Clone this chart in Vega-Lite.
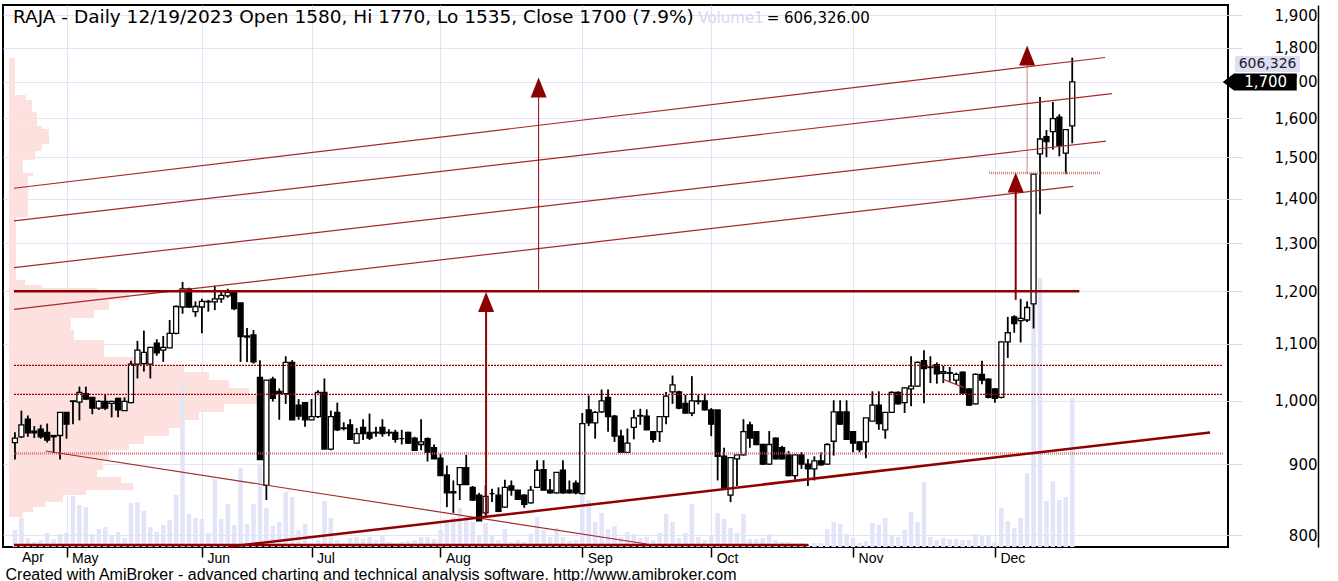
{
"$schema":"https://vega.github.io/schema/vega-lite/v6.json",
"width":1225,"height":542,
"autosize":{"type":"none"},
"padding":{"left":3,"top":5,"right":110,"bottom":34},
"background":"#ffffff",
"config":{"view":{"stroke":"#000000","strokeWidth":2}},
"datasets":{
"candles":[
{"i":0,"o":933,"h":949,"l":907,"c":940,"v":69190},
{"i":1,"o":942,"h":984,"l":940,"c":961,"v":118030},
{"i":2,"o":970,"h":976,"l":942,"c":948,"v":36630},
{"i":3,"o":951,"h":959,"l":940,"c":948,"v":20350},
{"i":4,"o":954,"h":961,"l":939,"c":942,"v":28490},
{"i":5,"o":949,"h":963,"l":933,"c":937,"v":56980},
{"i":6,"o":944,"h":944,"l":917,"c":942,"v":32560},
{"i":7,"o":944,"h":981,"l":907,"c":981,"v":52910},
{"i":8,"o":981,"h":981,"l":939,"c":962,"v":56980},
{"i":9,"o":999,"h":1000,"l":962,"c":1000,"v":207570},
{"i":10,"o":998,"h":1024,"l":968,"c":1014,"v":170940},
{"i":11,"o":1012,"h":1024,"l":1002,"c":1003,"v":162800},
{"i":12,"o":1006,"h":1006,"l":978,"c":988,"v":52910},
{"i":13,"o":988,"h":1001,"l":985,"c":999,"v":73260},
{"i":14,"o":999,"h":1010,"l":985,"c":988,"v":81400},
{"i":15,"o":996,"h":1000,"l":973,"c":999,"v":48840},
{"i":16,"o":1004,"h":1005,"l":973,"c":985,"v":61050},
{"i":17,"o":984,"h":1006,"l":984,"c":999,"v":36630},
{"i":18,"o":997,"h":1069,"l":996,"c":1063,"v":179080},
{"i":19,"o":1063,"h":1105,"l":1038,"c":1088,"v":183150},
{"i":20,"o":1064,"h":1124,"l":1050,"c":1084,"v":146520},
{"i":21,"o":1063,"h":1094,"l":1038,"c":1093,"v":81400},
{"i":22,"o":1101,"h":1108,"l":1078,"c":1083,"v":61050},
{"i":23,"o":1088,"h":1114,"l":1067,"c":1093,"v":89540},
{"i":24,"o":1092,"h":1144,"l":1092,"c":1119,"v":109890},
{"i":25,"o":1119,"h":1172,"l":1117,"c":1170,"v":211640},
{"i":26,"o":1169,"h":1219,"l":1156,"c":1205,"v":651200},
{"i":27,"o":1205,"h":1207,"l":1167,"c":1169,"v":134310},
{"i":28,"o":1160,"h":1180,"l":1150,"c":1170,"v":118030},
{"i":29,"o":1169,"h":1185,"l":1119,"c":1180,"v":113960},
{"i":30,"o":1179,"h":1183,"l":1160,"c":1180,"v":56980},
{"i":31,"o":1179,"h":1211,"l":1163,"c":1185,"v":276760},
{"i":32,"o":1185,"h":1202,"l":1177,"c":1192,"v":113960},
{"i":33,"o":1191,"h":1205,"l":1187,"c":1198,"v":175010},
{"i":34,"o":1198,"h":1201,"l":1163,"c":1166,"v":89540},
{"i":35,"o":1177,"h":1177,"l":1067,"c":1113,"v":321530},
{"i":36,"o":1114,"h":1129,"l":1067,"c":1112,"v":93610},
{"i":37,"o":1116,"h":1125,"l":1064,"c":1067,"v":175010},
{"i":38,"o":1040,"h":1070,"l":907,"c":907,"v":337810},
{"i":39,"o":869,"h":1035,"l":848,"c":1035,"v":158730},
{"i":40,"o":1037,"h":1041,"l":999,"c":1004,"v":85470},
{"i":41,"o":1016,"h":1021,"l":969,"c":1012,"v":101750},
{"i":42,"o":1012,"h":1077,"l":995,"c":1066,"v":223850},
{"i":43,"o":1066,"h":1070,"l":969,"c":969,"v":203500},
{"i":44,"o":993,"h":1003,"l":969,"c":975,"v":69190},
{"i":45,"o":997,"h":997,"l":958,"c":969,"v":93610},
{"i":46,"o":969,"h":1003,"l":969,"c":974,"v":16280},
{"i":47,"o":974,"h":1018,"l":972,"c":1014,"v":28490},
{"i":48,"o":1014,"h":1038,"l":923,"c":923,"v":187220},
{"i":49,"o":923,"h":984,"l":921,"c":974,"v":118030},
{"i":50,"o":981,"h":997,"l":951,"c":953,"v":28490},
{"i":51,"o":956,"h":965,"l":952,"c":955,"v":16280},
{"i":52,"o":961,"h":970,"l":938,"c":938,"v":36630},
{"i":53,"o":932,"h":956,"l":932,"c":947,"v":40700},
{"i":54,"o":957,"h":970,"l":937,"c":947,"v":32560},
{"i":55,"o":949,"h":979,"l":937,"c":940,"v":40700},
{"i":56,"o":948,"h":958,"l":942,"c":949,"v":28490},
{"i":57,"o":957,"h":970,"l":942,"c":947,"v":44770},
{"i":58,"o":949,"h":954,"l":943,"c":948,"v":20350},
{"i":59,"o":949,"h":953,"l":933,"c":938,"v":16280},
{"i":60,"o":939,"h":953,"l":930,"c":939,"v":20350},
{"i":61,"o":949,"h":950,"l":931,"c":932,"v":24420},
{"i":62,"o":940,"h":942,"l":920,"c":921,"v":28490},
{"i":63,"o":930,"h":970,"l":921,"c":934,"v":40700},
{"i":64,"o":939,"h":941,"l":904,"c":918,"v":40700},
{"i":65,"o":925,"h":930,"l":908,"c":908,"v":32560},
{"i":66,"o":909,"h":916,"l":883,"c":883,"v":69190},
{"i":67,"o":884,"h":898,"l":838,"c":858,"v":101750},
{"i":68,"o":860,"h":876,"l":830,"c":858,"v":122100},
{"i":69,"o":870,"h":895,"l":848,"c":895,"v":158730},
{"i":70,"o":895,"h":914,"l":870,"c":870,"v":122100},
{"i":71,"o":866,"h":868,"l":847,"c":848,"v":101750},
{"i":72,"o":855,"h":858,"l":819,"c":819,"v":44770},
{"i":73,"o":830,"h":869,"l":826,"c":853,"v":97680},
{"i":74,"o":857,"h":864,"l":845,"c":857,"v":44770},
{"i":75,"o":855,"h":866,"l":831,"c":832,"v":28490},
{"i":76,"o":838,"h":877,"l":837,"c":866,"v":73260},
{"i":77,"o":868,"h":876,"l":854,"c":862,"v":20350},
{"i":78,"o":862,"h":862,"l":848,"c":849,"v":28490},
{"i":79,"o":855,"h":856,"l":837,"c":842,"v":20350},
{"i":80,"o":844,"h":868,"l":843,"c":862,"v":52910},
{"i":81,"o":866,"h":906,"l":866,"c":891,"v":122100},
{"i":82,"o":892,"h":906,"l":862,"c":862,"v":69190},
{"i":83,"o":862,"h":878,"l":857,"c":858,"v":40700},
{"i":84,"o":858,"h":888,"l":857,"c":888,"v":77330},
{"i":85,"o":891,"h":906,"l":857,"c":858,"v":40700},
{"i":86,"o":862,"h":876,"l":857,"c":858,"v":24420},
{"i":87,"o":872,"h":876,"l":856,"c":858,"v":28490},
{"i":88,"o":857,"h":980,"l":856,"c":963,"v":211640},
{"i":89,"o":985,"h":1009,"l":959,"c":964,"v":191290},
{"i":90,"o":964,"h":983,"l":939,"c":981,"v":101750},
{"i":91,"o":982,"h":1019,"l":980,"c":1000,"v":138380},
{"i":92,"o":1006,"h":1019,"l":950,"c":974,"v":73260},
{"i":93,"o":975,"h":977,"l":934,"c":943,"v":85470},
{"i":94,"o":943,"h":953,"l":918,"c":918,"v":40700},
{"i":95,"o":918,"h":955,"l":917,"c":932,"v":61050},
{"i":96,"o":957,"h":985,"l":938,"c":972,"v":52910},
{"i":97,"o":975,"h":987,"l":961,"c":976,"v":36630},
{"i":98,"o":975,"h":986,"l":953,"c":953,"v":40700},
{"i":99,"o":950,"h":951,"l":933,"c":938,"v":28490},
{"i":100,"o":950,"h":975,"l":934,"c":974,"v":56980},
{"i":101,"o":974,"h":1015,"l":962,"c":1008,"v":134310},
{"i":102,"o":1015,"h":1043,"l":995,"c":1027,"v":101750},
{"i":103,"o":1015,"h":1017,"l":986,"c":988,"v":36630},
{"i":104,"o":996,"h":1010,"l":979,"c":980,"v":56980},
{"i":105,"o":980,"h":1042,"l":975,"c":1000,"v":175010},
{"i":106,"o":999,"h":1010,"l":994,"c":1000,"v":40700},
{"i":107,"o":1000,"h":1012,"l":984,"c":985,"v":28490},
{"i":108,"o":985,"h":988,"l":943,"c":962,"v":48840},
{"i":109,"o":985,"h":985,"l":876,"c":912,"v":138380},
{"i":110,"o":912,"h":925,"l":863,"c":864,"v":113960},
{"i":111,"o":855,"h":910,"l":845,"c":910,"v":77330},
{"i":112,"o":908,"h":914,"l":868,"c":914,"v":56980},
{"i":113,"o":914,"h":970,"l":913,"c":950,"v":134310},
{"i":114,"o":961,"h":966,"l":925,"c":940,"v":32560},
{"i":115,"o":950,"h":951,"l":929,"c":930,"v":32560},
{"i":116,"o":930,"h":931,"l":899,"c":900,"v":36630},
{"i":117,"o":900,"h":951,"l":899,"c":930,"v":52910},
{"i":118,"o":940,"h":941,"l":907,"c":908,"v":28490},
{"i":119,"o":925,"h":928,"l":907,"c":908,"v":20350},
{"i":120,"o":914,"h":920,"l":882,"c":883,"v":20350},
{"i":121,"o":883,"h":915,"l":877,"c":914,"v":16280},
{"i":122,"o":914,"h":918,"l":893,"c":900,"v":16280},
{"i":123,"o":900,"h":908,"l":868,"c":893,"v":8140},
{"i":124,"o":893,"h":912,"l":876,"c":905,"v":16280},
{"i":125,"o":905,"h":918,"l":898,"c":899,"v":16280},
{"i":126,"o":900,"h":932,"l":899,"c":930,"v":73260},
{"i":127,"o":935,"h":1001,"l":913,"c":982,"v":101750},
{"i":128,"o":982,"h":1001,"l":961,"c":962,"v":93610},
{"i":129,"o":982,"h":1001,"l":937,"c":938,"v":52910},
{"i":130,"o":950,"h":951,"l":918,"c":932,"v":36630},
{"i":131,"o":934,"h":935,"l":918,"c":922,"v":16280},
{"i":132,"o":934,"h":972,"l":909,"c":972,"v":24420},
{"i":133,"o":967,"h":1016,"l":967,"c":993,"v":97680},
{"i":134,"o":993,"h":1016,"l":953,"c":963,"v":89540},
{"i":135,"o":953,"h":981,"l":939,"c":981,"v":118030},
{"i":136,"o":981,"h":1016,"l":980,"c":1014,"v":48840},
{"i":137,"o":1014,"h":1016,"l":994,"c":995,"v":40700},
{"i":138,"o":997,"h":1023,"l":980,"c":1022,"v":69190},
{"i":139,"o":1020,"h":1077,"l":991,"c":1025,"v":142450},
{"i":140,"o":1025,"h":1068,"l":1024,"c":1066,"v":101750},
{"i":141,"o":1069,"h":1088,"l":996,"c":1055,"v":264550},
{"i":142,"o":1058,"h":1077,"l":1030,"c":1057,"v":40700},
{"i":143,"o":1062,"h":1066,"l":1029,"c":1046,"v":28490},
{"i":144,"o":1047,"h":1060,"l":1030,"c":1050,"v":36630},
{"i":145,"o":1048,"h":1058,"l":1032,"c":1047,"v":32560},
{"i":146,"o":1035,"h":1048,"l":1028,"c":1045,"v":32560},
{"i":147,"o":1049,"h":1050,"l":1012,"c":1013,"v":28490},
{"i":148,"o":1020,"h":1021,"l":992,"c":993,"v":28490},
{"i":149,"o":995,"h":1047,"l":994,"c":1045,"v":52910},
{"i":150,"o":1045,"h":1069,"l":1028,"c":1035,"v":44770},
{"i":151,"o":1037,"h":1038,"l":1004,"c":1006,"v":48840},
{"i":152,"o":1020,"h":1021,"l":997,"c":1004,"v":20350},
{"i":153,"o":1006,"h":1104,"l":1004,"c":1103,"v":158730},
{"i":154,"o":1103,"h":1150,"l":1074,"c":1120,"v":105820},
{"i":155,"o":1150,"h":1153,"l":1120,"c":1137,"v":77330},
{"i":156,"o":1143,"h":1185,"l":1102,"c":1147,"v":118030},
{"i":157,"o":1144,"h":1180,"l":1140,"c":1168,"v":301180},
{"i":158,"o":1175,"h":1458,"l":1128,"c":1458,"v":1221000},
{"i":159,"o":1508,"h":1658,"l":1364,"c":1546,"v":1094830},
{"i":160,"o":1552,"h":1569,"l":1500,"c":1539,"v":187220},
{"i":161,"o":1565,"h":1644,"l":1519,"c":1599,"v":268620},
{"i":162,"o":1603,"h":1611,"l":1502,"c":1530,"v":191290},
{"i":163,"o":1510,"h":1570,"l":1458,"c":1570,"v":203500},
{"i":164,"o":1580,"h":1770,"l":1535,"c":1700,"v":606326}
],
"profile":[
{"lo":1663.6,"hi":1769.3,"vap":6},{"lo":1649.8,"hi":1663.6,"vap":17},{"lo":1617.2,"hi":1649.8,"vap":23},{"lo":1580.0,"hi":1617.2,"vap":28},{"lo":1572.1,"hi":1580.0,"vap":33},{"lo":1533.3,"hi":1572.1,"vap":40},{"lo":1515.6,"hi":1533.3,"vap":33},{"lo":1493.1,"hi":1515.6,"vap":26},{"lo":1461.1,"hi":1493.1,"vap":14},{"lo":1453.8,"hi":1461.1,"vap":24},{"lo":1358.0,"hi":1453.8,"vap":19},{"lo":1222.8,"hi":1358.0,"vap":7},{"lo":1212.7,"hi":1222.8,"vap":16},{"lo":1206.6,"hi":1212.7,"vap":33},{"lo":1196.6,"hi":1206.6,"vap":88},{"lo":1182.8,"hi":1196.6,"vap":120},{"lo":1163.3,"hi":1182.8,"vap":100},{"lo":1147.9,"hi":1163.3,"vap":85},{"lo":1125.2,"hi":1147.9,"vap":62},{"lo":1106.6,"hi":1125.2,"vap":65},{"lo":1092.0,"hi":1106.6,"vap":95},{"lo":1075.8,"hi":1092.0,"vap":95},{"lo":1061.5,"hi":1075.8,"vap":140},{"lo":1049.2,"hi":1061.5,"vap":175},{"lo":1035.4,"hi":1049.2,"vap":200},{"lo":1021.7,"hi":1035.4,"vap":220},{"lo":1008.2,"hi":1021.7,"vap":240},{"lo":994.8,"hi":1008.2,"vap":255},{"lo":981.7,"hi":994.8,"vap":215},{"lo":968.7,"hi":981.7,"vap":190},{"lo":955.9,"hi":968.7,"vap":175},{"lo":943.3,"hi":955.9,"vap":160},{"lo":930.8,"hi":943.3,"vap":135},{"lo":921.5,"hi":930.8,"vap":120},{"lo":906.3,"hi":921.5,"vap":100},{"lo":891.4,"hi":906.3,"vap":94},{"lo":881.0,"hi":891.4,"vap":88},{"lo":872.3,"hi":881.0,"vap":112},{"lo":862.2,"hi":872.3,"vap":124},{"lo":855.0,"hi":862.2,"vap":77},{"lo":845.1,"hi":855.0,"vap":54},{"lo":838.2,"hi":845.1,"vap":36},{"lo":831.2,"hi":838.2,"vap":24},{"lo":824.3,"hi":831.2,"vap":14}
],
"lines":[
{"kind":"level","x1":-0.15,"p1":1200,"x2":165.1,"p2":1200},
{"kind":"dot","x1":-0.15,"p1":1061,"x2":187.38,"p2":1061},
{"kind":"dot","x1":-0.15,"p1":1011,"x2":187.38,"p2":1011},
{"kind":"dotpink","x1":-0.15,"p1":916,"x2":187.38,"p2":916},
{"kind":"dotpink","x1":151.08,"p1":1461,"x2":168.3,"p2":1461},
{"kind":"channel","x1":-0.15,"p1":1424.4,"x2":169.08,"p2":1770.5},
{"kind":"channel","x1":-0.15,"p1":1349.0,"x2":170.15,"p2":1666.9},
{"kind":"channel","x1":-0.15,"p1":1248.1,"x2":169.23,"p2":1540.6},
{"kind":"channel","x1":-0.15,"p1":1164.3,"x2":164.15,"p2":1428.7},
{"kind":"channel","x1":143.95,"p1":1036.6,"x2":147.18,"p2":1022.2},
{"kind":"channel","x1":4.77,"p1":920.0,"x2":98.0,"p2":788.1},
{"kind":"trend","x1":33.08,"p1":784.4,"x2":185.38,"p2":948.9},
{"kind":"trend","x1":-0.15,"p1":786.8,"x2":123.1,"p2":786.8},
{"kind":"arrowthick","x1":73.08,"p1":823,"x2":73.08,"p2":1165},
{"kind":"arrowthick","x1":155.23,"p1":1183,"x2":155.23,"p2":1420},
{"kind":"arrowthin","x1":81.23,"p1":1203,"x2":81.23,"p2":1660},
{"kind":"arrowdot","x1":157.0,"p1":1460,"x2":157.0,"p2":1750}
],
"arrows":[
{"x":73.08,"p":1178.9},{"x":81.23,"p":1684.5},{"x":155.23,"p":1437.8},{"x":157.0,"p":1776.6}
]
},
"resolve":{"scale":{"x":"independent","y":"independent"}},
"layer":[
{"data":{"name":"profile"},
 "mark":{"type":"rect","color":"#fde1df"},
 "encoding":{
  "x":{"field":"vap","type":"quantitative","scale":{"domain":[-6,1219],"nice":false,"zero":false},"axis":null},
  "x2":{"datum":0},
  "y":{"field":"lo","type":"quantitative","scale":{"type":"log","domain":[784.2,1932],"nice":false},"axis":null},
  "y2":{"field":"hi"}}},
{"data":{"name":"candles"},
 "mark":{"type":"bar","width":4.5,"color":"#e2e4f8"},
 "encoding":{
  "x":{"field":"i","type":"quantitative","scale":{"domain":[-1.0769,187.385],"nice":false,"zero":false},"axis":null},
  "y":{"field":"v","type":"quantitative","scale":{"domain":[0,2205560],"nice":false},
       "axis":{"orient":"right","offset":90,"domain":true,"domainColor":"#000000","domainWidth":1.5,"labels":false,"ticks":false,"grid":false,"title":null}}}},
{"layer":[
 {"data":{"name":"candles"},
  "mark":{"type":"rule","color":"#000000","strokeWidth":1.8},
  "encoding":{
   "x":{"field":"i","type":"quantitative","scale":{"domain":[-1.0769,187.385],"nice":false,"zero":false},
        "axis":{"values":[8,29,46,66,88,108,130,152],
          "labelExpr":"datum.value==8?'May':datum.value==29?'Jun':datum.value==46?'Jul':datum.value==66?'Aug':datum.value==88?'Sep':datum.value==108?'Oct':datum.value==130?'Nov':'Dec'",
          "grid":true,"gridColor":"#e3e3f5","gridWidth":1,"domain":false,
          "ticks":true,"tickColor":"#000000","tickSize":10,"tickWidth":1.5,
          "labelAlign":"left","labelBaseline":"middle","labelOffset":5,"labelPadding":1,
          "labelFont":"Liberation Sans","labelFontSize":14,"labelColor":"#000000",
          "labelOverlap":false,"labelFlush":false,"labelBound":false,
          "title":"Created with AmiBroker - advanced charting and technical analysis software. http://www.amibroker.com",
          "titleFont":"Liberation Sans","titleFontSize":16,"titleFontWeight":"normal","titleColor":"#000000",
          "titleAnchor":"start","titleAlign":"left","titleBaseline":"middle","titleX":2,"titleY":27}},
   "y":{"field":"l","type":"quantitative","scale":{"type":"log","domain":[784.2,1932],"nice":false},
        "axis":{"orient":"right","values":[800,900,1000,1100,1200,1300,1400,1500,1600,1700,1800,1900],"format":",",
          "grid":true,"gridColor":"#e3e3f5","gridWidth":1,"domain":false,
          "ticks":true,"tickColor":"#dcdcf0","tickSize":14,
          "labelAlign":"right","labelBaseline":"middle","labelPadding":75,
          "labelFont":"DejaVu Sans","labelFontSize":15,"labelColor":"#000000",
          "labelOverlap":false,"labelFlush":false,"labelBound":false,"title":null}},
   "y2":{"field":"h"}}},
 {"data":{"name":"candles"},
  "mark":{"type":"bar","width":5,"stroke":"#000000","strokeWidth":1.3},
  "encoding":{
   "x":{"field":"i","type":"quantitative"},
   "y":{"field":"o","type":"quantitative"},
   "y2":{"field":"c"},
   "fill":{"condition":{"test":"datum.c>=datum.o","value":"#ffffff"},"value":"#000000"}}},
 {"data":{"name":"lines"},"transform":[{"filter":"datum.kind=='dotpink'"}],
  "mark":{"type":"rule","color":"#c85a5a","strokeWidth":2.5,"strokeDash":[1,1],"opacity":0.75},
  "encoding":{"x":{"field":"x1","type":"quantitative"},"x2":{"field":"x2"},"y":{"field":"p1","type":"quantitative"},"y2":{"field":"p2"}}},
 {"data":{"name":"lines"},"transform":[{"filter":"datum.kind=='dot'"}],
  "mark":{"type":"rule","color":"#a00000","strokeWidth":1.2,"strokeDash":[2,1]},
  "encoding":{"x":{"field":"x1","type":"quantitative"},"x2":{"field":"x2"},"y":{"field":"p1","type":"quantitative"},"y2":{"field":"p2"}}},
 {"data":{"name":"lines"},"transform":[{"filter":"datum.kind=='channel'"}],
  "mark":{"type":"rule","color":"#a52a2a","strokeWidth":1.2},
  "encoding":{"x":{"field":"x1","type":"quantitative"},"x2":{"field":"x2"},"y":{"field":"p1","type":"quantitative"},"y2":{"field":"p2"}}},
 {"data":{"name":"lines"},"transform":[{"filter":"datum.kind=='level' || datum.kind=='trend'"}],
  "mark":{"type":"rule","color":"#900000","strokeWidth":2.5},
  "encoding":{"x":{"field":"x1","type":"quantitative"},"x2":{"field":"x2"},"y":{"field":"p1","type":"quantitative"},"y2":{"field":"p2"}}},
 {"data":{"name":"lines"},"transform":[{"filter":"datum.kind=='arrowthick'"}],
  "mark":{"type":"rule","color":"#8b0000","strokeWidth":2},
  "encoding":{"x":{"field":"x1","type":"quantitative"},"x2":{"field":"x2"},"y":{"field":"p1","type":"quantitative"},"y2":{"field":"p2"}}},
 {"data":{"name":"lines"},"transform":[{"filter":"datum.kind=='arrowthin'"}],
  "mark":{"type":"rule","color":"#8b0000","strokeWidth":1},
  "encoding":{"x":{"field":"x1","type":"quantitative"},"x2":{"field":"x2"},"y":{"field":"p1","type":"quantitative"},"y2":{"field":"p2"}}},
 {"data":{"name":"lines"},"transform":[{"filter":"datum.kind=='arrowdot'"}],
  "mark":{"type":"rule","color":"#b03030","strokeWidth":1.2,"strokeDash":[1,1]},
  "encoding":{"x":{"field":"x1","type":"quantitative"},"x2":{"field":"x2"},"y":{"field":"p1","type":"quantitative"},"y2":{"field":"p2"}}},
 {"data":{"name":"arrows"},
  "mark":{"type":"point","shape":"M0,-1L0.8,1L-0.8,1Z","size":400,"filled":true,"color":"#8b0000","opacity":1,"strokeWidth":0},
  "encoding":{"x":{"field":"x","type":"quantitative"},"y":{"field":"p","type":"quantitative"}}},
 {"data":{"values":[{"t":"RAJA - Daily 12/19/2023 Open 1580, Hi 1770, Lo 1535, Close 1700 (7.9%)"}]},
  "mark":{"type":"text","align":"left","baseline":"alphabetic","font":"DejaVu Sans","fontSize":18.5,"color":"#000000"},
  "encoding":{"x":{"datum":-0.31,"type":"quantitative"},"y":{"datum":1873.7,"type":"quantitative"},"text":{"field":"t","type":"nominal"}}},
 {"data":{"values":[{"t":"Volume1"}]},
  "mark":{"type":"text","align":"left","baseline":"alphabetic","font":"DejaVu Sans","fontSize":15,"color":"#d4d7f4"},
  "encoding":{"x":{"datum":106.0,"type":"quantitative"},"y":{"datum":1873.7,"type":"quantitative"},"text":{"field":"t","type":"nominal"}}},
 {"data":{"values":[{"t":"= 606,326.00"}]},
  "mark":{"type":"text","align":"left","baseline":"alphabetic","font":"DejaVu Sans","fontSize":15,"color":"#000000"},
  "encoding":{"x":{"datum":116.6,"type":"quantitative"},"y":{"datum":1873.7,"type":"quantitative"},"text":{"field":"t","type":"nominal"}}},
 {"data":{"values":[{"t":"Apr"}]},
  "mark":{"type":"text","align":"left","baseline":"middle","font":"Liberation Sans","fontSize":14,"color":"#000000"},
  "encoding":{"x":{"datum":1.1,"type":"quantitative"},"y":{"datum":770,"type":"quantitative"},"text":{"field":"t","type":"nominal"}}},
 {"data":{"values":[{"t":"606,326"}]},
  "mark":{"type":"point","shape":"M-1,-0.246L1,-0.246L1,0.246L-1,0.246Z","size":4225,"filled":true,"color":"#dcdff6","opacity":1,"strokeWidth":0},
  "encoding":{"x":{"datum":194.3,"type":"quantitative"},"y":{"datum":1751.7,"type":"quantitative"}}},
 {"data":{"values":[{"t":"606,326"}]},
  "mark":{"type":"text","align":"center","baseline":"middle","font":"DejaVu Sans","fontSize":14,"color":"#222222"},
  "encoding":{"x":{"datum":194.3,"type":"quantitative"},"y":{"datum":1751.7,"type":"quantitative"},"text":{"field":"t","type":"nominal"}}},
 {"data":{"name":"candles"},"transform":[{"filter":"datum.i==164"}],
  "mark":{"type":"point","shape":"M-1,0L-0.676,-0.243L-0.676,-0.23L1,-0.23L1,0.23L-0.676,0.23L-0.676,0.243Z","size":5476,"filled":true,"color":"#000000","opacity":1,"strokeWidth":0},
  "encoding":{"x":{"datum":193.08,"type":"quantitative"},"y":{"field":"c","type":"quantitative"}}},
 {"data":{"name":"candles"},"transform":[{"filter":"datum.i==164"}],
  "mark":{"type":"text","align":"center","baseline":"middle","font":"DejaVu Sans","fontSize":15,"color":"#ffffff"},
  "encoding":{"x":{"datum":194.0,"type":"quantitative"},"y":{"field":"c","type":"quantitative"},"text":{"field":"c","type":"quantitative","format":","}}}
]}
]}
